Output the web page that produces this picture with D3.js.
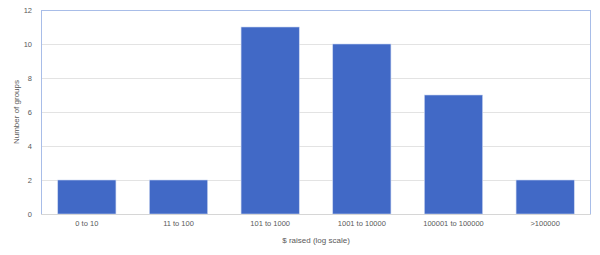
<!DOCTYPE html>
<html><head><meta charset="utf-8">
<script src="https://cdn.jsdelivr.net/npm/d3@7"></script>
<style>body{margin:0;background:#fff;} text{font-family:"Liberation Sans",Arial,sans-serif;fill:#595959;}</style>
</head><body><svg id="c" width="600" height="255"></svg>
<script>
const categories = ["0 to 10","11 to 100","101 to 1000","1001 to 10000","100001 to 100000",">100000"];
const values = [2,2,11,10,7,2];
const yTicks = [0,2,4,6,8,10,12];
const xTitle = "$ raised (log scale)";
const yTitle = "Number of groups";

const svg = d3.select("#c");
const m = {l:41, r:9, t:10, b:41};
const W = 600, H = 255;
const x = d3.scaleBand().domain(categories).range([m.l, W-m.r]).paddingInner(0.365).paddingOuter(0.1825);
const y = d3.scaleLinear().domain([0,12]).range([H-m.b, m.t]);

// gridlines
svg.append("g").selectAll("line").data(yTicks).join("line")
  .attr("x1", m.l).attr("x2", W-m.r)
  .attr("y1", d=>y(d)+0.5).attr("y2", d=>y(d)+0.5)
  .attr("stroke", "#e3e3e3").attr("stroke-width",1);

// bars
svg.append("g").selectAll("rect").data(values).join("rect")
  .attr("x", (d,i)=>x(categories[i]))
  .attr("y", d=>y(d))
  .attr("width", x.bandwidth())
  .attr("height", d=>y(0)-y(d))
  .attr("fill", "#4169c6").attr("stroke","#c9d6f0").attr("stroke-width",0.6);

// plot border
svg.append("rect").attr("x", m.l+0.5).attr("y", m.t+0.5)
  .attr("width", W-m.l-m.r-1).attr("height", H-m.t-m.b)
  .attr("fill","none").attr("stroke","#a8bde8").attr("stroke-width",1);
svg.append("line").attr("x1",m.l).attr("x2",W-m.r).attr("y1",y(0)+0.5).attr("y2",y(0)+0.5)
  .attr("stroke","#d6d6d6");

// y axis
const ya = svg.append("g").attr("transform",`translate(${m.l},0)`)
  .call(d3.axisLeft(y).tickValues(yTicks).tickSize(0).tickPadding(9));
ya.select(".domain").remove();
ya.selectAll("text").attr("font-size","7.5px").attr("font-family","Liberation Sans").attr("fill","#595959");

// x axis
const xa = svg.append("g").attr("transform",`translate(0,${y(0)})`)
  .call(d3.axisBottom(x).tickSize(0).tickPadding(7));
xa.select(".domain").remove();
xa.selectAll("text").attr("font-size","7.5px").attr("font-family","Liberation Sans").attr("fill","#595959");

svg.append("text").attr("x", (m.l+W-m.r)/2).attr("y", 243).attr("text-anchor","middle")
  .attr("font-size","8px").text(xTitle);
svg.append("text").attr("transform",`translate(19,${(m.t+H-m.b)/2}) rotate(-90)`)
  .attr("text-anchor","middle").attr("font-size","8px").text(yTitle);
</script></body></html>
